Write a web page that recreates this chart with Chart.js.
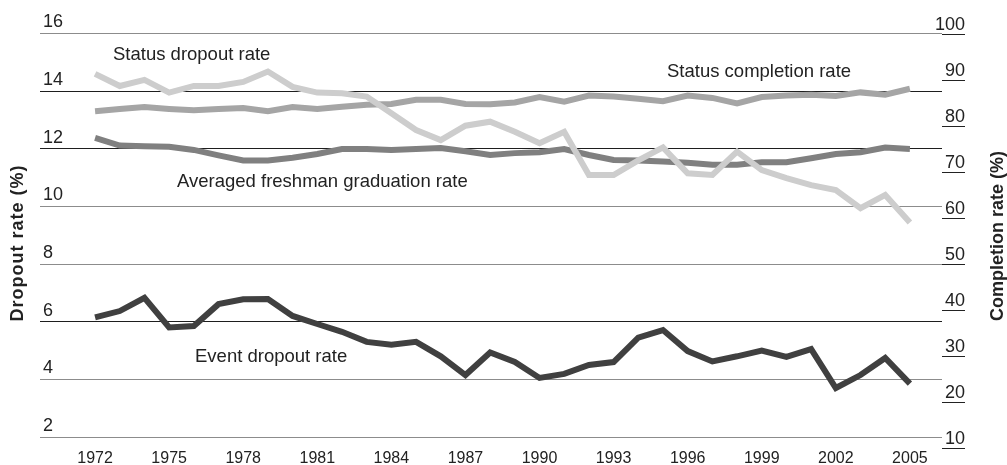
<!DOCTYPE html>
<html lang="en">
<head>
<meta charset="UTF-8">
<title>Dropout and completion rates, 1972-2005</title>
<script src="https://cdn.jsdelivr.net/npm/chart.js"></script>
<style>
  body { margin: 0; background: #fff; }
  #wrap { width: 1007px; height: 465px; }
</style>
</head>
<body>
<div id="wrap"><canvas id="myChart" width="1007" height="465"></canvas></div>
<script>
const years = [1972, 1973, 1974, 1975, 1976, 1977, 1978, 1979, 1980, 1981, 1982, 1983,
  1984, 1985, 1986, 1987, 1988, 1989, 1990, 1991, 1992, 1993, 1994, 1995, 1996, 1997,
  1998, 1999, 2000, 2001, 2002, 2003, 2004, 2005];

// left axis (%)
const statusDropout = [14.6, 14.18, 14.39, 13.95, 14.18, 14.18, 14.32, 14.68, 14.15, 13.95, 13.93, 13.81,
  13.23, 12.65, 12.3, 12.8, 12.94, 12.59, 12.19, 12.59, 11.09, 11.09, 11.6, 12.05, 11.15, 11.09,
  11.9, 11.26, 10.98, 10.74, 10.57, 9.94, 10.4, 9.44];
const eventDropout = [6.15, 6.37, 6.83, 5.8, 5.85, 6.61, 6.78, 6.79, 6.2, 5.92, 5.65, 5.3,
  5.2, 5.3, 4.8, 4.15, 4.93, 4.6, 4.05, 4.19, 4.5, 4.6, 5.45, 5.71, 4.98, 4.62,
  4.8, 5.0, 4.78, 5.05, 3.7, 4.15, 4.74, 3.85];

// right axis (%)
const statusCompletion = [83.1, 83.6, 84.0, 83.6, 83.3, 83.6, 83.8, 83.1, 84.0, 83.6, 84.1, 84.5,
  84.7, 85.6, 85.6, 84.7, 84.6, 85.0, 86.2, 85.2, 86.5, 86.3, 85.8, 85.3, 86.5, 86.0,
  84.8, 86.2, 86.5, 86.7, 86.4, 87.2, 86.7, 88.0];
const freshmanGrad = [77.3, 75.65, 75.5, 75.4, 74.7, 73.5, 72.4, 72.4, 73.0, 73.8, 74.9, 74.9,
  74.7, 74.9, 75.1, 74.4, 73.6, 74.0, 74.2, 74.9, 73.6, 72.5, 72.4, 72.2, 71.9, 71.5,
  71.5, 72.0, 72.0, 72.9, 73.8, 74.2, 75.2, 74.9];

const xTicks = [1972, 1975, 1978, 1981, 1984, 1987, 1990, 1993, 1996, 1999, 2002, 2005];
const leftTicks = [2, 4, 6, 8, 10, 12, 14, 16];
const rightTicks = [10, 20, 30, 40, 50, 60, 70, 80, 90, 100];

const FONT = "'Liberation Sans', Arial, sans-serif";
const TEXT = '#222';

function toPoints(vals) {
  return years.map((yr, i) => ({ x: yr, y: vals[i] }));
}

// tick labels sit above their lines, series names and axis titles
const labelPlugin = {
  id: 'labels',
  afterDraw(chart) {
    const ctx = chart.ctx;
    const area = chart.chartArea;
    const yL = chart.scales.y;
    const yR = chart.scales.y1;
    ctx.save();
    ctx.fillStyle = TEXT;
    ctx.font = '18px ' + FONT;
    ctx.textBaseline = 'middle';

    ctx.textAlign = 'left';
    leftTicks.forEach(v => {
      ctx.fillText(String(v), area.left + 3, yL.getPixelForValue(v) - 11);
    });

    ctx.textAlign = 'right';
    ctx.strokeStyle = '#222';
    ctx.lineWidth = 1;
    rightTicks.forEach(v => {
      const py = Math.round(yR.getPixelForValue(v)) + 0.5;
      ctx.beginPath();
      ctx.moveTo(area.right, py);
      ctx.lineTo(area.right + 23, py);
      ctx.stroke();
      ctx.fillText(String(v), area.right + 23, py - 9);
    });

    ctx.font = '18.5px ' + FONT;
    ctx.textAlign = 'left';
    ctx.fillText('Status dropout rate', 113, 55);
    ctx.fillText('Status completion rate', 667, 72);
    ctx.fillText('Averaged freshman graduation rate', 177, 182);
    ctx.fillText('Event dropout rate', 195, 357);

    ctx.font = 'bold 18px ' + FONT;
    ctx.textAlign = 'center';
    ctx.save();
    ctx.letterSpacing = '1px';
    ctx.translate(18, 243);
    ctx.rotate(-Math.PI / 2);
    ctx.fillText('Dropout rate (%)', 0, 0);
    ctx.restore();
    ctx.save();
    ctx.translate(998, 236);
    ctx.rotate(-Math.PI / 2);
    ctx.fillText('Completion rate (%)', 0, 0);
    ctx.restore();

    ctx.restore();
  }
};

const lineStyle = { borderWidth: 6, pointRadius: 0, tension: 0, borderJoinStyle: 'miter', fill: false };

new Chart(document.getElementById('myChart'), {
  type: 'line',
  data: {
    datasets: [
      { label: 'Status dropout rate', data: toPoints(statusDropout), yAxisID: 'y', borderColor: '#cdcdcd', ...lineStyle },
      { label: 'Event dropout rate', data: toPoints(eventDropout), yAxisID: 'y', borderColor: '#404040', ...lineStyle },
      { label: 'Status completion rate', data: toPoints(statusCompletion), yAxisID: 'y1', borderColor: '#a5a5a5', ...lineStyle },
      { label: 'Averaged freshman graduation rate', data: toPoints(freshmanGrad), yAxisID: 'y1', borderColor: '#808080', ...lineStyle }
    ]
  },
  options: {
    responsive: false,
    animation: false,
    devicePixelRatio: 1,
    layout: { padding: { left: 40, right: 65, top: 33.5, bottom: 0 } },
    plugins: { legend: { display: false }, tooltip: { enabled: false } },
    scales: {
      x: {
        type: 'linear',
        min: 1969.77,
        max: 2006.3,
        grid: { display: false, drawTicks: false },
        border: { display: false },
        afterBuildTicks: s => { s.ticks = xTicks.map(v => ({ value: v })); },
        afterFit: s => { s.height = 28; },
        ticks: {
          padding: 14,
          color: TEXT,
          font: { family: FONT, size: 16, lineHeight: 1 },
          maxRotation: 0,
          autoSkip: false,
          callback: v => String(v)
        }
      },
      y: {
        position: 'left',
        min: 2,
        max: 16,
        ticks: { display: false, stepSize: 2 },
        grid: {
          drawTicks: false,
          lineWidth: 1,
          color: c => [6, 12, 14].includes(c.tick.value) ? '#1e1e1e' : '#8c8c8c'
        },
        border: { display: false }
      },
      y1: {
        position: 'right',
        display: false,
        min: 12.3,
        max: 100
      }
    }
  },
  plugins: [labelPlugin]
});
</script>
</body>
</html>
